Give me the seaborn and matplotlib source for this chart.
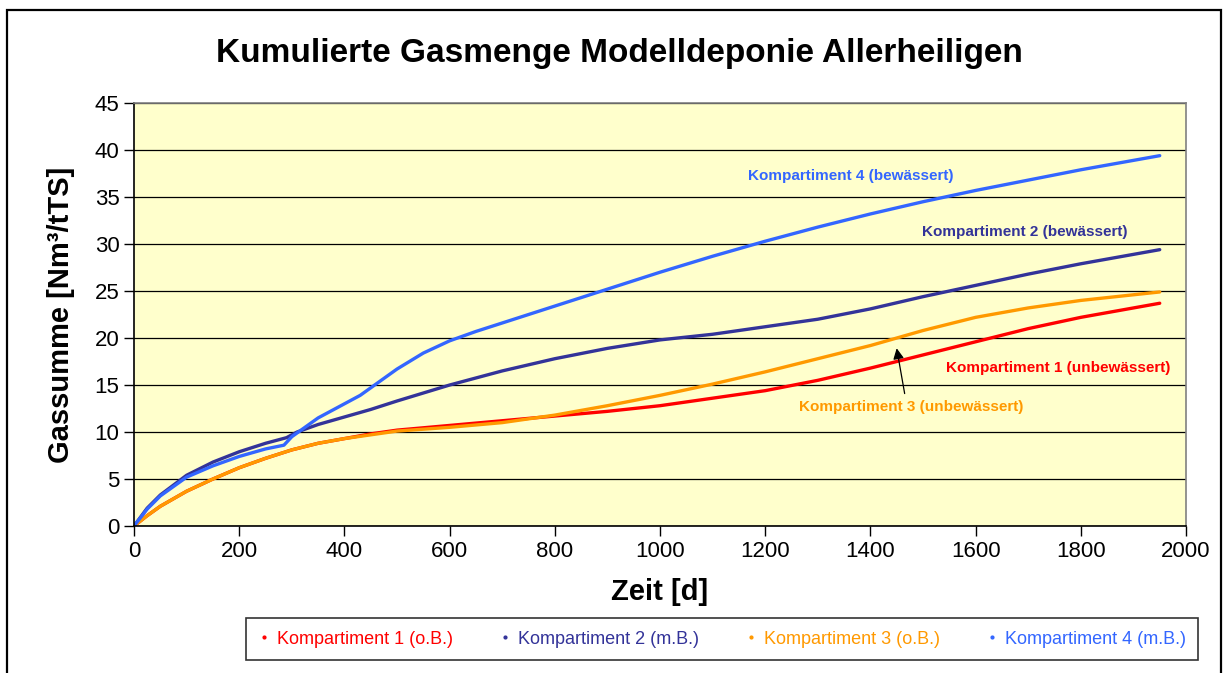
import matplotlib
matplotlib.use('Agg')
import matplotlib.pyplot as plt
from matplotlib.lines import Line2D
from matplotlib.patches import Rectangle
import seaborn as sns
import pandas as pd

# Werte (Zeit in d, Gassumme in Nm³/tTS)
days_1 = [0, 25, 50, 100, 150, 200, 250, 300, 350, 400, 450, 500, 600, 700, 800, 900,
          1000, 1100, 1200, 1300, 1400, 1500, 1600, 1700, 1800, 1900, 1950]
komp_1 = [0, 1.1, 2.1, 3.7, 5.0, 6.2, 7.2, 8.1, 8.8, 9.3, 9.8, 10.2, 10.7, 11.2, 11.7, 12.2,
          12.8, 13.6, 14.4, 15.5, 16.8, 18.2, 19.6, 21.0, 22.2, 23.2, 23.7]

days_2 = [0, 25, 50, 100, 150, 200, 250, 290, 310, 350, 400, 450, 500, 600, 700, 800, 900,
          1000, 1100, 1200, 1300, 1400, 1500, 1600, 1700, 1800, 1900, 1950]
komp_2 = [0, 1.9, 3.3, 5.4, 6.8, 7.9, 8.8, 9.4, 10.0, 10.8, 11.6, 12.4, 13.3, 15.0, 16.5, 17.8, 18.9,
          19.8, 20.4, 21.2, 22.0, 23.1, 24.4, 25.6, 26.8, 27.9, 28.9, 29.4]

days_3 = days_1
komp_3 = [0, 1.1, 2.1, 3.7, 5.0, 6.2, 7.2, 8.1, 8.8, 9.3, 9.7, 10.1, 10.5, 11.0, 11.8, 12.8,
          13.9, 15.1, 16.4, 17.8, 19.2, 20.8, 22.2, 23.2, 24.0, 24.6, 24.9]

days_4 = [0, 25, 50, 100, 150, 200, 250, 285, 300, 350, 400, 430, 460, 500, 550, 600, 650, 700,
          800, 900, 1000, 1100, 1200, 1300, 1400, 1500, 1600, 1700, 1800, 1900, 1950]
komp_4 = [0, 1.8, 3.2, 5.2, 6.4, 7.4, 8.2, 8.6, 9.5, 11.5, 13.0, 13.9, 15.1, 16.7, 18.4, 19.7, 20.7, 21.6,
          23.4, 25.2, 27.0, 28.7, 30.3, 31.8, 33.2, 34.5, 35.7, 36.8, 37.9, 38.9, 39.4]

legend_labels = ['Kompartiment 1 (o.B.)', 'Kompartiment 2 (m.B.)',
                 'Kompartiment 3 (o.B.)', 'Kompartiment 4 (m.B.)']
note_labels = ['Kompartiment 1 (unbewässert)', 'Kompartiment 2 (bewässert)',
               'Kompartiment 3 (unbewässert)', 'Kompartiment 4 (bewässert)']
colors = ['#FF0000', '#333399', '#FF9900', '#3366FF']

frames = []
for lab, d, v in zip(legend_labels, [days_1, days_2, days_3, days_4], [komp_1, komp_2, komp_3, komp_4]):
    frames.append(pd.DataFrame({'Zeit': d, 'Gassumme': v, 'Serie': lab}))
df = pd.concat(frames, ignore_index=True)

sns.set_style('white')
plt.rcParams['font.family'] = ['Liberation Sans', 'DejaVu Sans']
plt.rcParams['text.color'] = 'black'
plt.rcParams['axes.labelcolor'] = 'black'
plt.rcParams['xtick.color'] = 'black'
plt.rcParams['ytick.color'] = 'black'

fig = plt.figure(figsize=(12.26, 6.73), dpi=100)
ax = fig.add_axes([0.1093, 0.2184, 0.8581, 0.6285])
ax.set_facecolor('#FFFFCC')

sns.lineplot(data=df, x='Zeit', y='Gassumme', hue='Serie', palette=colors,
             linewidth=2.4, legend=False, ax=ax)

ax.set_xlim(0, 2000)
ax.set_ylim(0, 45)
ax.set_xticks(range(0, 2001, 200))
ax.set_yticks(range(0, 46, 5))
ax.grid(axis='y', color='black', linewidth=0.9)
ax.set_axisbelow(True)
ax.tick_params(axis='both', direction='out', length=7, width=1, color='black',
               labelcolor='black', labelsize=16, left=True, bottom=True)
for s in ['left', 'bottom']:
    ax.spines[s].set_color('black')
    ax.spines[s].set_linewidth(1.2)
for s in ['top', 'right']:
    ax.spines[s].set_color('#808080')
    ax.spines[s].set_linewidth(1.2)

ax.set_xlabel('Zeit [d]', fontsize=21, fontweight='bold', labelpad=12)
ax.set_ylabel('Gassumme [Nm³/tTS]', fontsize=21, fontweight='bold', labelpad=14)
fig.text(0.505, 0.921, 'Kumulierte Gasmenge Modelldeponie Allerheiligen',
         ha='center', va='center', fontsize=24, fontweight='bold')

# Beschriftungen im Diagramm
ax.text(1167, 37.2, note_labels[3], color=colors[3], fontsize=11, fontweight='bold', va='center')
ax.text(1498, 31.3, note_labels[1], color=colors[1], fontsize=11, fontweight='bold', va='center')
ax.text(1544, 16.8, note_labels[0], color=colors[0], fontsize=11, fontweight='bold', va='center')
ax.text(1264, 12.7, note_labels[2], color=colors[2], fontsize=11, fontweight='bold', va='center')
ax.annotate('', xy=(1449, 19.2), xytext=(1466, 13.8),
            arrowprops=dict(arrowstyle='-|>', color='black', lw=0.9, mutation_scale=16))

handles = [Line2D([], [], color=c, marker='.', markersize=4, linestyle='none', label=l)
           for c, l in zip(colors, legend_labels)]
leg = fig.legend(handles=handles, loc='center', bbox_to_anchor=(0.589, 0.0505), ncol=4,
                 fontsize=13, labelcolor=colors, frameon=True, fancybox=False,
                 edgecolor='black', handlelength=0.6, handletextpad=0.4, columnspacing=2.6,
                 borderpad=0.7)
leg.get_frame().set_linewidth(1.2)

fig.patches.append(Rectangle((0.006, -0.02), 0.99, 1.005, transform=fig.transFigure,
                             fill=False, edgecolor='black', linewidth=1.6))

fig.savefig('out.png', dpi=100)
